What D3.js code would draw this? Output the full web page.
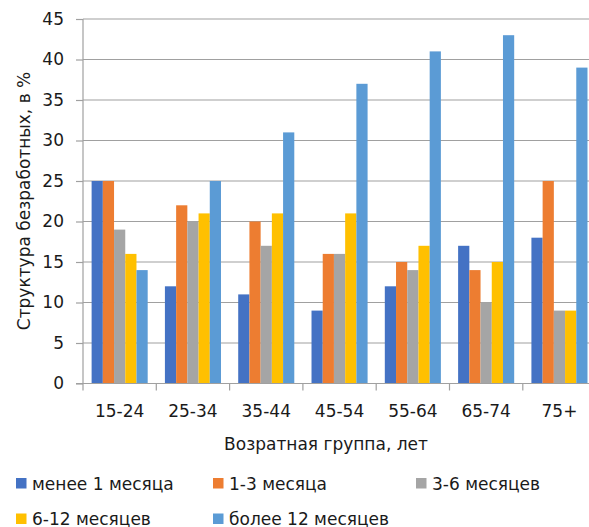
<!DOCTYPE html>
<html>
<head>
<meta charset="utf-8">
<script src="https://cdn.jsdelivr.net/npm/d3@7"></script>
<style>
  html, body { margin: 0; padding: 0; background: #fff; }
  svg { display: block; }
  text { font-family: "DejaVu Sans", sans-serif; fill: #1a1a1a; }
</style>
</head>
<body>
<svg id="chart" width="589" height="527"></svg>
<script>
// Age groups on the x axis
const categories = ["15-24", "25-34", "35-44", "45-54", "55-64", "65-74", "75+"];

// Share of unemployed by duration of job search, %
const seriesNames = ["менее 1 месяца", "1-3 месяца", "3-6 месяцев", "6-12 месяцев", "более 12 месяцев"];
const lessThan1 = [25, 12, 11, 9, 12, 17, 18];
const from1to3 = [25, 22, 20, 16, 15, 14, 25];
const from3to6 = [19, 20, 17, 16, 14, 10, 9];
const from6to12 = [16, 21, 21, 21, 17, 15, 9];
const moreThan12 = [14, 25, 31, 37, 41, 43, 39];
const seriesValues = [lessThan1, from1to3, from3to6, from6to12, moreThan12];

const yTicks = [0, 5, 10, 15, 20, 25, 30, 35, 40, 45];
const colors = ["#4472C4", "#ED7D31", "#A5A5A5", "#FFC000", "#5B9BD5"];

const svg = d3.select("#chart");
const plotLeft = 83, plotTop = 19, plotBottom = 383.5, catWidth = 73.3;

const x = d3.scaleBand()
  .domain(categories)
  .range([plotLeft, plotLeft + catWidth * categories.length])
  .paddingInner(0.235)
  .paddingOuter(0.1175);

const xs = d3.scaleBand()
  .domain(d3.range(seriesNames.length))
  .range([0, x.bandwidth()]);

const y = d3.scaleLinear().domain([0, 45]).range([plotBottom, plotTop]);

// Horizontal gridlines
svg.append("g")
  .selectAll("line")
  .data(yTicks.filter(d => d > 0))
  .join("line")
  .attr("x1", plotLeft).attr("x2", 589)
  .attr("y1", d => y(d)).attr("y2", d => y(d))
  .attr("stroke", "#a0a0a0").attr("stroke-width", 1.2);

// Bars
const data = [];
categories.forEach((c, i) => {
  seriesValues.forEach((vals, s) => data.push({ cat: c, s, v: vals[i] }));
});
svg.append("g")
  .selectAll("rect")
  .data(data)
  .join("rect")
  .attr("x", d => x(d.cat) + xs(d.s))
  .attr("width", xs.bandwidth())
  .attr("y", d => y(d.v))
  .attr("height", d => y(0) - y(d.v))
  .attr("fill", d => colors[d.s]);

// Y axis
const yAxis = d3.axisLeft(y).tickValues(yTicks).tickSize(7).tickPadding(12);
const gy = svg.append("g").attr("transform", `translate(${plotLeft},0)`).call(yAxis);
gy.select(".domain").attr("stroke", "#a0a0a0").attr("stroke-width", 1.2).attr("d", `M0,${y(45)}V${y(0)}`);
gy.selectAll(".tick line").attr("stroke", "#a0a0a0").attr("stroke-width", 1.2);
gy.selectAll(".tick text").attr("font-size", 17).attr("font-family", "DejaVu Sans").attr("fill", "#1a1a1a");

// X axis: line with ticks at category boundaries
const gx = svg.append("g");
gx.append("line")
  .attr("x1", plotLeft - 7).attr("x2", 589)
  .attr("y1", y(0)).attr("y2", y(0))
  .attr("stroke", "#a0a0a0").attr("stroke-width", 1.2);
const boundaries = d3.range(categories.length + 1).map(i => plotLeft + i * catWidth);
gx.selectAll("line.tk")
  .data(boundaries)
  .join("line")
  .attr("class", "tk")
  .attr("x1", d => d).attr("x2", d => d)
  .attr("y1", y(0)).attr("y2", y(0) + 7)
  .attr("stroke", "#a0a0a0").attr("stroke-width", 1.2);
gx.selectAll("text")
  .data(categories)
  .join("text")
  .attr("x", d => x(d) + x.bandwidth() / 2)
  .attr("y", 417)
  .attr("text-anchor", "middle")
  .attr("font-size", 17)
  .text(d => d);

// Axis titles
svg.append("text")
  .attr("x", 326).attr("y", 450)
  .attr("text-anchor", "middle")
  .attr("font-size", 17)
  .text("Возратная группа, лет");

svg.append("text")
  .attr("transform", "translate(30,201) rotate(-90)")
  .attr("text-anchor", "middle")
  .attr("font-size", 17)
  .text("Структура безработных, в %");

// Legend
const legendPos = [[16, 483.5], [213, 483.5], [416, 483.5], [16, 519], [213, 519]];
const lg = svg.append("g")
  .selectAll("g")
  .data(seriesNames)
  .join("g")
  .attr("transform", (d, i) => `translate(${legendPos[i][0]},${legendPos[i][1]})`);
lg.append("rect")
  .attr("x", 0).attr("y", -5.5).attr("width", 10.5).attr("height", 10.5)
  .attr("fill", (d, i) => colors[i]);
lg.append("text")
  .attr("x", 16).attr("y", 6)
  .attr("font-size", 17)
  .text(d => d);
</script>
</body>
</html>
